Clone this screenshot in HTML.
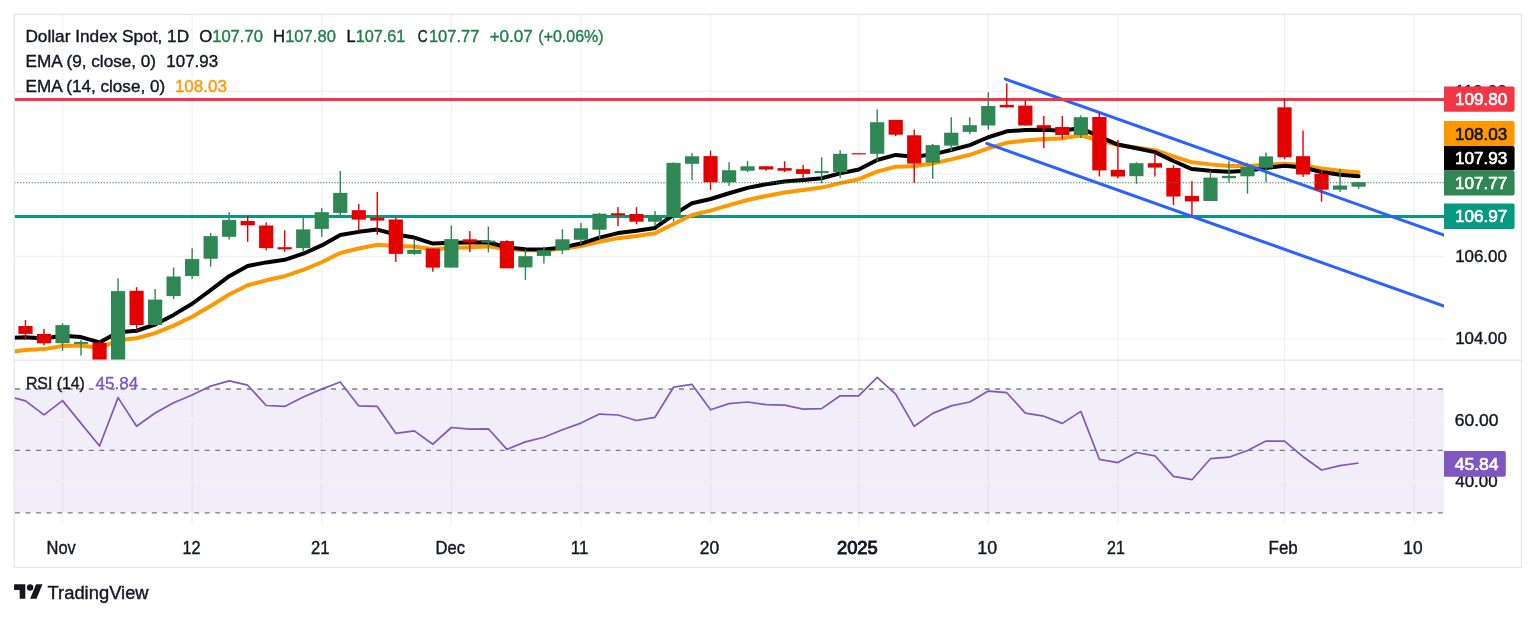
<!DOCTYPE html><html><head><meta charset="utf-8"><title>DXY</title><style>html,body{margin:0;padding:0;background:#fff;width:1536px;height:618px;overflow:hidden}text{white-space:pre}</style></head><body><svg width="1536" height="618" viewBox="0 0 1536 618" style="display:block;will-change:transform">
<defs><clipPath id="cm"><rect x="14" y="14" width="1430" height="346"/></clipPath><clipPath id="cr"><rect x="14" y="360" width="1430" height="165"/></clipPath></defs>
<line x1="62.53" y1="14" x2="62.53" y2="525" stroke="#F2F2F4" stroke-width="1.3"/>
<line x1="192.14" y1="14" x2="192.14" y2="525" stroke="#F2F2F4" stroke-width="1.3"/>
<line x1="321.74" y1="14" x2="321.74" y2="525" stroke="#F2F2F4" stroke-width="1.3"/>
<line x1="451.35" y1="14" x2="451.35" y2="525" stroke="#F2F2F4" stroke-width="1.3"/>
<line x1="580.95" y1="14" x2="580.95" y2="525" stroke="#F2F2F4" stroke-width="1.3"/>
<line x1="710.55" y1="14" x2="710.55" y2="525" stroke="#F2F2F4" stroke-width="1.3"/>
<line x1="858.67" y1="14" x2="858.67" y2="525" stroke="#F2F2F4" stroke-width="1.3"/>
<line x1="988.28" y1="14" x2="988.28" y2="525" stroke="#F2F2F4" stroke-width="1.3"/>
<line x1="1117.88" y1="14" x2="1117.88" y2="525" stroke="#F2F2F4" stroke-width="1.3"/>
<line x1="1284.52" y1="14" x2="1284.52" y2="525" stroke="#F2F2F4" stroke-width="1.3"/>
<line x1="1414.12" y1="14" x2="1414.12" y2="525" stroke="#F2F2F4" stroke-width="1.3"/>
<line x1="14" y1="91.3" x2="1444" y2="91.3" stroke="#F2F2F4" stroke-width="1.3"/>
<line x1="14" y1="173.9" x2="1444" y2="173.9" stroke="#F2F2F4" stroke-width="1.3"/>
<line x1="14" y1="256.5" x2="1444" y2="256.5" stroke="#F2F2F4" stroke-width="1.3"/>
<line x1="14" y1="338.8" x2="1444" y2="338.8" stroke="#F2F2F4" stroke-width="1.3"/>
<rect x="14" y="389" width="1430" height="123.8" fill="rgba(126,87,194,0.1)"/>
<line x1="14" y1="419.5" x2="1444" y2="419.5" stroke="#F2F2F4" stroke-width="1.3"/>
<line x1="14" y1="481.1" x2="1444" y2="481.1" stroke="#F2F2F4" stroke-width="1.3"/>
<line x1="15" y1="389.0" x2="1444" y2="389.0" stroke="#787B86" stroke-width="1.3" stroke-dasharray="4.9 5.64"/>
<line x1="15" y1="450.4" x2="1444" y2="450.4" stroke="#787B86" stroke-width="1.3" stroke-dasharray="4.9 5.64"/>
<line x1="15" y1="512.8" x2="1444" y2="512.8" stroke="#787B86" stroke-width="1.3" stroke-dasharray="4.9 5.64"/>
<g clip-path="url(#cr)"><polyline points="6.98,396.00 25.50,400.90 44.02,414.90 62.53,400.60 81.05,423.40 99.56,446.00 118.08,397.60 136.59,426.30 155.11,413.00 173.62,402.80 192.14,395.00 210.65,386.10 229.16,380.90 247.68,385.20 266.20,405.50 284.71,406.40 303.23,397.00 321.74,389.10 340.25,382.00 358.77,405.90 377.28,406.40 395.80,433.30 414.32,430.90 432.83,444.20 451.35,427.50 469.86,429.10 488.38,428.80 506.89,449.40 525.40,441.90 543.92,437.20 562.44,429.80 580.95,423.10 599.47,414.10 617.98,415.00 636.50,420.50 655.01,417.30 673.52,387.20 692.04,384.40 710.55,409.80 729.07,403.60 747.59,402.00 766.10,404.70 784.62,405.20 803.13,409.10 821.64,408.60 840.16,395.80 858.67,395.80 877.19,377.30 895.71,394.20 914.22,426.30 932.74,413.40 951.25,405.90 969.76,402.00 988.28,391.10 1006.79,392.70 1025.31,413.10 1043.83,416.20 1062.34,423.40 1080.86,411.40 1099.37,459.30 1117.88,462.60 1136.40,452.50 1154.91,455.80 1173.43,476.40 1191.94,479.70 1210.46,458.70 1228.97,457.20 1247.49,450.50 1266.01,441.10 1284.52,441.10 1303.04,456.70 1321.55,470.00 1340.07,465.60 1358.58,463.00" fill="none" stroke="#7E57C2" stroke-width="1.7" stroke-linejoin="round"/></g>
<g clip-path="url(#cm)">
<line x1="14" y1="216.4" x2="1444" y2="216.4" stroke="#089981" stroke-width="3"/>
<polyline points="6.98,352.50 25.50,350.02 44.02,349.12 62.53,345.92 81.05,345.44 99.56,347.91 118.08,340.34 136.59,338.29 155.11,333.13 173.62,325.58 192.14,316.72 210.65,305.97 229.16,294.49 247.68,285.27 266.20,280.31 284.71,276.19 303.23,269.95 321.74,262.25 340.25,253.00 358.77,248.55 377.28,244.82 395.80,246.03 414.32,246.54 432.83,249.34 451.35,247.98 469.86,247.22 488.38,246.38 506.89,249.30 525.40,250.22 543.92,250.22 562.44,248.76 580.95,246.03 599.47,241.72 617.98,238.16 636.50,235.97 655.01,233.34 673.52,223.95 692.04,214.93 710.55,210.58 729.07,205.20 747.59,200.01 766.10,195.94 784.62,192.58 803.13,190.09 821.64,187.59 840.16,183.09 858.67,179.18 877.19,171.59 895.71,166.67 914.22,166.26 932.74,163.44 951.25,159.34 969.76,154.79 988.28,148.28 1006.79,142.83 1025.31,140.52 1043.83,138.90 1062.34,138.38 1080.86,135.56 1099.37,140.20 1117.88,145.04 1136.40,147.46 1154.91,150.15 1173.43,156.33 1191.94,162.34 1210.46,164.37 1228.97,165.91 1247.49,166.06 1266.01,164.77 1284.52,163.77 1303.04,165.20 1321.55,168.47 1340.07,170.74 1358.58,172.27" fill="none" stroke="#FF9800" stroke-width="4" stroke-linejoin="round" stroke-linecap="round"/>
<polyline points="6.98,338.00 25.50,337.18 44.02,338.40 62.53,335.74 81.05,337.05 99.56,342.44 118.08,332.17 136.59,330.74 155.11,324.51 173.62,314.91 192.14,303.75 210.65,290.22 229.16,276.15 247.68,265.98 266.20,262.41 284.71,259.81 303.23,253.72 321.74,245.42 340.25,234.92 358.77,231.85 377.28,229.60 395.80,234.46 414.32,237.53 432.83,243.54 451.35,242.65 469.86,242.58 488.38,242.25 506.89,247.46 525.40,249.21 543.92,249.40 562.44,247.38 580.95,243.57 599.47,237.59 617.98,233.07 636.50,230.80 655.01,227.90 673.52,214.90 692.04,203.18 710.55,199.00 729.07,193.24 747.59,187.85 766.10,184.18 784.62,181.49 803.13,179.97 821.64,178.26 840.16,173.36 858.67,169.45 877.19,160.00 895.71,154.94 914.22,156.67 932.74,154.36 951.25,150.03 969.76,145.06 988.28,137.25 1006.79,131.28 1025.31,130.12 1043.83,129.78 1062.34,130.82 1080.86,128.10 1099.37,136.56 1117.88,144.55 1136.40,148.28 1154.91,152.14 1173.43,161.01 1191.94,169.09 1210.46,170.79 1228.97,171.81 1247.49,170.85 1266.01,167.96 1284.52,165.83 1303.04,167.56 1321.55,171.99 1340.07,174.69 1358.58,176.19" fill="none" stroke="#000000" stroke-width="4" stroke-linejoin="round" stroke-linecap="round"/>
<line x1="1005.3" y1="79.1" x2="1444" y2="235.1" stroke="#2962FF" stroke-width="3" stroke-linecap="round"/>
<line x1="986.7" y1="143.4" x2="1444" y2="306.1" stroke="#2962FF" stroke-width="3" stroke-linecap="round"/>
<line x1="14" y1="99.4" x2="1444" y2="99.4" stroke="#F23645" stroke-width="3"/>
<rect x="24.80" y="320.10" width="1.4" height="19.70" fill="#E50000"/>
<rect x="18.40" y="326.00" width="14.2" height="7.90" fill="#E50000"/>
<rect x="43.31" y="328.90" width="1.4" height="16.50" fill="#E50000"/>
<rect x="36.91" y="334.00" width="14.2" height="9.30" fill="#E50000"/>
<rect x="61.83" y="323.30" width="1.4" height="27.60" fill="#2E8754"/>
<rect x="55.43" y="325.10" width="14.2" height="18.10" fill="#2E8754"/>
<rect x="80.34" y="339.60" width="1.4" height="16.00" fill="#2E8754"/>
<rect x="73.95" y="341.90" width="14.2" height="2.00" fill="#2E8754"/>
<rect x="98.86" y="340.30" width="1.4" height="25.70" fill="#E50000"/>
<rect x="92.46" y="342.80" width="14.2" height="21.20" fill="#E50000"/>
<rect x="117.38" y="278.30" width="1.4" height="86.70" fill="#2E8754"/>
<rect x="110.98" y="291.10" width="14.2" height="72.90" fill="#2E8754"/>
<rect x="135.89" y="287.20" width="1.4" height="43.60" fill="#E50000"/>
<rect x="129.49" y="290.80" width="14.2" height="34.20" fill="#E50000"/>
<rect x="154.41" y="289.00" width="1.4" height="36.00" fill="#2E8754"/>
<rect x="148.01" y="299.60" width="14.2" height="25.40" fill="#2E8754"/>
<rect x="172.92" y="267.60" width="1.4" height="31.50" fill="#2E8754"/>
<rect x="166.52" y="276.50" width="14.2" height="19.60" fill="#2E8754"/>
<rect x="191.44" y="248.40" width="1.4" height="30.50" fill="#2E8754"/>
<rect x="185.04" y="259.10" width="14.2" height="16.90" fill="#2E8754"/>
<rect x="209.95" y="232.90" width="1.4" height="33.90" fill="#2E8754"/>
<rect x="203.55" y="236.10" width="14.2" height="22.60" fill="#2E8754"/>
<rect x="228.47" y="212.10" width="1.4" height="27.60" fill="#2E8754"/>
<rect x="222.06" y="219.90" width="14.2" height="16.90" fill="#2E8754"/>
<rect x="246.98" y="216.00" width="1.4" height="25.80" fill="#E50000"/>
<rect x="240.58" y="221.00" width="14.2" height="4.30" fill="#E50000"/>
<rect x="265.50" y="222.30" width="1.4" height="28.10" fill="#E50000"/>
<rect x="259.10" y="225.50" width="14.2" height="22.60" fill="#E50000"/>
<rect x="284.01" y="230.30" width="1.4" height="21.40" fill="#E50000"/>
<rect x="277.61" y="247.20" width="14.2" height="2.20" fill="#E50000"/>
<rect x="302.53" y="217.30" width="1.4" height="34.40" fill="#2E8754"/>
<rect x="296.12" y="229.40" width="14.2" height="18.70" fill="#2E8754"/>
<rect x="321.04" y="208.10" width="1.4" height="28.80" fill="#2E8754"/>
<rect x="314.64" y="212.20" width="14.2" height="16.70" fill="#2E8754"/>
<rect x="339.56" y="171.00" width="1.4" height="46.00" fill="#2E8754"/>
<rect x="333.15" y="192.90" width="14.2" height="20.00" fill="#2E8754"/>
<rect x="358.07" y="204.10" width="1.4" height="26.70" fill="#E50000"/>
<rect x="351.67" y="210.20" width="14.2" height="9.40" fill="#E50000"/>
<rect x="376.58" y="191.90" width="1.4" height="42.90" fill="#E50000"/>
<rect x="370.18" y="217.70" width="14.2" height="2.90" fill="#E50000"/>
<rect x="395.10" y="217.70" width="1.4" height="44.20" fill="#E50000"/>
<rect x="388.70" y="219.50" width="14.2" height="34.40" fill="#E50000"/>
<rect x="413.62" y="238.70" width="1.4" height="16.10" fill="#2E8754"/>
<rect x="407.22" y="249.80" width="14.2" height="4.10" fill="#2E8754"/>
<rect x="432.13" y="248.50" width="1.4" height="23.20" fill="#E50000"/>
<rect x="425.73" y="248.50" width="14.2" height="19.10" fill="#E50000"/>
<rect x="450.65" y="225.40" width="1.4" height="42.20" fill="#2E8754"/>
<rect x="444.25" y="239.10" width="14.2" height="28.50" fill="#2E8754"/>
<rect x="469.16" y="231.10" width="1.4" height="21.00" fill="#E50000"/>
<rect x="462.76" y="239.30" width="14.2" height="3.00" fill="#E50000"/>
<rect x="487.68" y="226.50" width="1.4" height="25.80" fill="#2E8754"/>
<rect x="481.27" y="240.60" width="14.2" height="2.00" fill="#2E8754"/>
<rect x="506.19" y="240.20" width="1.4" height="28.10" fill="#E50000"/>
<rect x="499.79" y="241.10" width="14.2" height="27.20" fill="#E50000"/>
<rect x="524.70" y="249.60" width="1.4" height="30.30" fill="#2E8754"/>
<rect x="518.30" y="256.20" width="14.2" height="11.20" fill="#2E8754"/>
<rect x="543.22" y="246.60" width="1.4" height="16.90" fill="#2E8754"/>
<rect x="536.82" y="250.20" width="14.2" height="5.70" fill="#2E8754"/>
<rect x="561.74" y="229.20" width="1.4" height="24.90" fill="#2E8754"/>
<rect x="555.34" y="239.30" width="14.2" height="10.90" fill="#2E8754"/>
<rect x="580.25" y="222.90" width="1.4" height="21.40" fill="#2E8754"/>
<rect x="573.85" y="228.30" width="14.2" height="11.50" fill="#2E8754"/>
<rect x="598.76" y="212.80" width="1.4" height="25.80" fill="#2E8754"/>
<rect x="592.37" y="213.70" width="14.2" height="16.00" fill="#2E8754"/>
<rect x="617.28" y="207.10" width="1.4" height="19.00" fill="#E50000"/>
<rect x="610.88" y="213.25" width="14.2" height="2.00" fill="#E50000"/>
<rect x="635.79" y="207.10" width="1.4" height="17.20" fill="#E50000"/>
<rect x="629.39" y="214.00" width="14.2" height="7.70" fill="#E50000"/>
<rect x="654.31" y="211.00" width="1.4" height="15.10" fill="#2E8754"/>
<rect x="647.91" y="216.30" width="14.2" height="5.40" fill="#2E8754"/>
<rect x="672.82" y="162.40" width="1.4" height="59.30" fill="#2E8754"/>
<rect x="666.42" y="162.90" width="14.2" height="54.30" fill="#2E8754"/>
<rect x="691.34" y="153.10" width="1.4" height="27.10" fill="#2E8754"/>
<rect x="684.94" y="156.30" width="14.2" height="7.50" fill="#2E8754"/>
<rect x="709.85" y="150.60" width="1.4" height="39.20" fill="#E50000"/>
<rect x="703.45" y="156.10" width="14.2" height="26.20" fill="#E50000"/>
<rect x="728.37" y="162.20" width="1.4" height="23.70" fill="#2E8754"/>
<rect x="721.97" y="170.20" width="14.2" height="12.10" fill="#2E8754"/>
<rect x="746.88" y="160.90" width="1.4" height="11.10" fill="#2E8754"/>
<rect x="740.49" y="166.30" width="14.2" height="4.40" fill="#2E8754"/>
<rect x="765.40" y="166.30" width="1.4" height="4.40" fill="#E50000"/>
<rect x="759.00" y="166.30" width="14.2" height="3.20" fill="#E50000"/>
<rect x="783.91" y="161.30" width="1.4" height="10.70" fill="#E50000"/>
<rect x="777.51" y="168.10" width="14.2" height="2.60" fill="#E50000"/>
<rect x="802.43" y="164.90" width="1.4" height="13.00" fill="#E50000"/>
<rect x="796.03" y="169.20" width="14.2" height="4.70" fill="#E50000"/>
<rect x="820.94" y="157.30" width="1.4" height="26.00" fill="#2E8754"/>
<rect x="814.54" y="171.10" width="14.2" height="2.00" fill="#2E8754"/>
<rect x="839.46" y="150.20" width="1.4" height="27.80" fill="#2E8754"/>
<rect x="833.06" y="153.80" width="14.2" height="18.30" fill="#2E8754"/>
<rect x="857.97" y="153.80" width="1.4" height="0.50" fill="#E50000"/>
<rect x="851.57" y="153.20" width="14.2" height="1.20" fill="#E50000"/>
<rect x="876.49" y="109.30" width="1.4" height="52.10" fill="#2E8754"/>
<rect x="870.09" y="122.20" width="14.2" height="31.60" fill="#2E8754"/>
<rect x="895.00" y="119.90" width="1.4" height="16.20" fill="#E50000"/>
<rect x="888.61" y="119.90" width="14.2" height="14.80" fill="#E50000"/>
<rect x="913.52" y="129.60" width="1.4" height="53.20" fill="#E50000"/>
<rect x="907.12" y="135.30" width="14.2" height="28.30" fill="#E50000"/>
<rect x="932.03" y="143.90" width="1.4" height="35.00" fill="#2E8754"/>
<rect x="925.63" y="145.10" width="14.2" height="17.50" fill="#2E8754"/>
<rect x="950.55" y="117.20" width="1.4" height="33.80" fill="#2E8754"/>
<rect x="944.15" y="132.70" width="14.2" height="12.90" fill="#2E8754"/>
<rect x="969.06" y="117.20" width="1.4" height="16.90" fill="#2E8754"/>
<rect x="962.66" y="125.20" width="14.2" height="6.70" fill="#2E8754"/>
<rect x="987.58" y="92.20" width="1.4" height="37.40" fill="#2E8754"/>
<rect x="981.18" y="106.00" width="14.2" height="19.50" fill="#2E8754"/>
<rect x="1006.09" y="83.30" width="1.4" height="24.10" fill="#E50000"/>
<rect x="999.69" y="104.90" width="14.2" height="2.50" fill="#E50000"/>
<rect x="1024.61" y="100.30" width="1.4" height="25.20" fill="#E50000"/>
<rect x="1018.21" y="105.60" width="14.2" height="19.90" fill="#E50000"/>
<rect x="1043.12" y="115.90" width="1.4" height="32.40" fill="#E50000"/>
<rect x="1036.73" y="125.20" width="14.2" height="3.20" fill="#E50000"/>
<rect x="1061.64" y="115.90" width="1.4" height="23.20" fill="#E50000"/>
<rect x="1055.24" y="127.00" width="14.2" height="8.00" fill="#E50000"/>
<rect x="1080.15" y="115.40" width="1.4" height="22.60" fill="#2E8754"/>
<rect x="1073.76" y="117.20" width="14.2" height="17.80" fill="#2E8754"/>
<rect x="1098.67" y="112.50" width="1.4" height="64.00" fill="#E50000"/>
<rect x="1092.27" y="117.00" width="14.2" height="53.40" fill="#E50000"/>
<rect x="1117.18" y="140.00" width="1.4" height="38.30" fill="#E50000"/>
<rect x="1110.79" y="169.80" width="14.2" height="6.70" fill="#E50000"/>
<rect x="1135.70" y="162.30" width="1.4" height="21.40" fill="#2E8754"/>
<rect x="1129.30" y="163.20" width="14.2" height="13.00" fill="#2E8754"/>
<rect x="1154.21" y="152.50" width="1.4" height="24.00" fill="#E50000"/>
<rect x="1147.82" y="163.20" width="14.2" height="4.40" fill="#E50000"/>
<rect x="1172.73" y="165.10" width="1.4" height="39.90" fill="#E50000"/>
<rect x="1166.33" y="168.00" width="14.2" height="28.50" fill="#E50000"/>
<rect x="1191.24" y="181.10" width="1.4" height="34.20" fill="#E50000"/>
<rect x="1184.85" y="195.90" width="14.2" height="5.50" fill="#E50000"/>
<rect x="1209.76" y="171.10" width="1.4" height="29.90" fill="#2E8754"/>
<rect x="1203.36" y="177.60" width="14.2" height="23.40" fill="#2E8754"/>
<rect x="1228.27" y="160.80" width="1.4" height="22.10" fill="#2E8754"/>
<rect x="1221.88" y="175.90" width="14.2" height="2.30" fill="#2E8754"/>
<rect x="1246.79" y="163.00" width="1.4" height="30.60" fill="#2E8754"/>
<rect x="1240.39" y="167.00" width="14.2" height="9.30" fill="#2E8754"/>
<rect x="1265.31" y="152.70" width="1.4" height="29.50" fill="#2E8754"/>
<rect x="1258.91" y="156.40" width="14.2" height="11.40" fill="#2E8754"/>
<rect x="1283.82" y="98.50" width="1.4" height="60.90" fill="#E50000"/>
<rect x="1277.42" y="107.30" width="14.2" height="50.00" fill="#E50000"/>
<rect x="1302.34" y="130.60" width="1.4" height="46.30" fill="#E50000"/>
<rect x="1295.94" y="156.20" width="14.2" height="18.30" fill="#E50000"/>
<rect x="1320.85" y="169.90" width="1.4" height="31.80" fill="#E50000"/>
<rect x="1314.45" y="173.70" width="14.2" height="16.00" fill="#E50000"/>
<rect x="1339.37" y="168.80" width="1.4" height="23.10" fill="#2E8754"/>
<rect x="1332.97" y="185.50" width="14.2" height="4.20" fill="#2E8754"/>
<rect x="1357.88" y="181.70" width="1.4" height="7.10" fill="#2E8754"/>
<rect x="1351.48" y="182.20" width="14.2" height="4.50" fill="#2E8754"/>
<line x1="14.3" y1="182.7" x2="1444" y2="182.7" stroke="#2E8754" stroke-width="1.15" stroke-dasharray="1.3 1.585"/>
</g>
<line x1="14" y1="360.2" x2="1521.5" y2="360.2" stroke="#E4E6ED" stroke-width="1.3"/>
<rect x="14.2" y="14.4" width="1507.3" height="553" fill="none" stroke="#E4E6ED" stroke-width="1.3"/>
<text x="1455.10" y="97.3" font-family="'Liberation Sans', sans-serif" font-size="17" fill="#131722" textLength="51.80" lengthAdjust="spacingAndGlyphs" stroke="#131722" stroke-width="0.4">110.00</text>
<text x="1455.13" y="261.7" font-family="'Liberation Sans', sans-serif" font-size="17" fill="#131722" textLength="51.74" lengthAdjust="spacingAndGlyphs" stroke="#131722" stroke-width="0.4">106.00</text>
<text x="1455.13" y="344.2" font-family="'Liberation Sans', sans-serif" font-size="17" fill="#131722" textLength="51.74" lengthAdjust="spacingAndGlyphs" stroke="#131722" stroke-width="0.4">104.00</text>
<text x="1454.73" y="425.8" font-family="'Liberation Sans', sans-serif" font-size="17" fill="#131722" textLength="43.73" lengthAdjust="spacingAndGlyphs" stroke="#131722" stroke-width="0.4">60.00</text>
<text x="1455.26" y="486.9" font-family="'Liberation Sans', sans-serif" font-size="17" fill="#131722" textLength="42.37" lengthAdjust="spacingAndGlyphs" stroke="#131722" stroke-width="0.4">40.00</text>
<path d="M1444,86.5 H1512.6 Q1514.6,86.5 1514.6,88.5 V109.7 Q1514.6,111.7 1512.6,111.7 H1444 Z" fill="#F23645"/>
<text x="1454.92" y="105.1" font-family="'Liberation Sans', sans-serif" font-size="17" fill="#FFFFFF" textLength="52.26" lengthAdjust="spacingAndGlyphs" stroke="#FFFFFF" stroke-width="0.65">109.80</text>
<path d="M1444,121.1 H1512.6 Q1514.6,121.1 1514.6,123.1 V144.0 Q1514.6,146.0 1512.6,146.0 H1444 Z" fill="#FF9800"/>
<text x="1454.92" y="139.6" font-family="'Liberation Sans', sans-serif" font-size="17" fill="#131722" textLength="52.35" lengthAdjust="spacingAndGlyphs" stroke="#131722" stroke-width="0.65">108.03</text>
<path d="M1444,146.0 H1512.6 Q1514.6,146.0 1514.6,148.0 V168.4 Q1514.6,170.4 1512.6,170.4 H1444 Z" fill="#000000"/>
<text x="1454.92" y="164.2" font-family="'Liberation Sans', sans-serif" font-size="17" fill="#FFFFFF" textLength="52.35" lengthAdjust="spacingAndGlyphs" stroke="#FFFFFF" stroke-width="0.65">107.93</text>
<path d="M1444,170.4 H1512.6 Q1514.6,170.4 1514.6,172.4 V193.4 Q1514.6,195.4 1512.6,195.4 H1444 Z" fill="#2E8754"/>
<text x="1454.91" y="188.9" font-family="'Liberation Sans', sans-serif" font-size="17" fill="#FFFFFF" textLength="52.52" lengthAdjust="spacingAndGlyphs" stroke="#FFFFFF" stroke-width="0.65">107.77</text>
<path d="M1444,203.4 H1512.6 Q1514.6,203.4 1514.6,205.4 V226.9 Q1514.6,228.9 1512.6,228.9 H1444 Z" fill="#089981"/>
<text x="1454.91" y="222.2" font-family="'Liberation Sans', sans-serif" font-size="17" fill="#FFFFFF" textLength="52.52" lengthAdjust="spacingAndGlyphs" stroke="#FFFFFF" stroke-width="0.65">106.97</text>
<path d="M1444,451.1 H1503.8 Q1505.8,451.1 1505.8,453.1 V474.7 Q1505.8,476.7 1503.8,476.7 H1444 Z" fill="#7E57C2"/>
<text x="1454.75" y="469.8" font-family="'Liberation Sans', sans-serif" font-size="17" fill="#FFFFFF" textLength="43.82" lengthAdjust="spacingAndGlyphs" stroke="#FFFFFF" stroke-width="0.65">45.84</text>
<text x="25.42" y="41.8" font-family="'Liberation Sans', sans-serif" font-size="17" fill="#131722" textLength="163.75" lengthAdjust="spacingAndGlyphs" stroke="#131722" stroke-width="0.4">Dollar Index Spot, 1D</text>
<text x="199.14" y="41.8" font-family="'Liberation Sans', sans-serif" font-size="17" fill="#131722" textLength="13.06" lengthAdjust="spacingAndGlyphs" stroke="#131722" stroke-width="0.4">O</text>
<text x="212.15" y="41.8" font-family="'Liberation Sans', sans-serif" font-size="17" fill="#22804A" textLength="50.81" lengthAdjust="spacingAndGlyphs" stroke="#22804A" stroke-width="0.4">107.70</text>
<text x="273.06" y="41.8" font-family="'Liberation Sans', sans-serif" font-size="17" fill="#131722" textLength="12.06" lengthAdjust="spacingAndGlyphs" stroke="#131722" stroke-width="0.4">H</text>
<text x="285.16" y="41.8" font-family="'Liberation Sans', sans-serif" font-size="17" fill="#22804A" textLength="50.70" lengthAdjust="spacingAndGlyphs" stroke="#22804A" stroke-width="0.4">107.80</text>
<text x="346.39" y="41.8" font-family="'Liberation Sans', sans-serif" font-size="17" fill="#131722" textLength="9.12" lengthAdjust="spacingAndGlyphs" stroke="#131722" stroke-width="0.4">L</text>
<text x="355.68" y="41.8" font-family="'Liberation Sans', sans-serif" font-size="17" fill="#22804A" textLength="49.73" lengthAdjust="spacingAndGlyphs" stroke="#22804A" stroke-width="0.4">107.61</text>
<text x="417.71" y="41.8" font-family="'Liberation Sans', sans-serif" font-size="17" fill="#131722" textLength="9.89" lengthAdjust="spacingAndGlyphs" stroke="#131722" stroke-width="0.4">C</text>
<text x="428.96" y="41.8" font-family="'Liberation Sans', sans-serif" font-size="17" fill="#22804A" textLength="50.44" lengthAdjust="spacingAndGlyphs" stroke="#22804A" stroke-width="0.4">107.77</text>
<text x="489.65" y="41.8" font-family="'Liberation Sans', sans-serif" font-size="17" fill="#22804A" textLength="43.21" lengthAdjust="spacingAndGlyphs" stroke="#22804A" stroke-width="0.4">+0.07</text>
<text x="538.34" y="41.8" font-family="'Liberation Sans', sans-serif" font-size="17" fill="#22804A" textLength="65.22" lengthAdjust="spacingAndGlyphs" stroke="#22804A" stroke-width="0.4">(+0.06%)</text>
<text x="25.53" y="66.9" font-family="'Liberation Sans', sans-serif" font-size="17" fill="#131722" textLength="130.57" lengthAdjust="spacingAndGlyphs" stroke="#131722" stroke-width="0.4">EMA (9, close, 0)</text>
<text x="166.33" y="66.9" font-family="'Liberation Sans', sans-serif" font-size="17" fill="#131722" textLength="51.72" lengthAdjust="spacingAndGlyphs" stroke="#131722" stroke-width="0.4">107.93</text>
<text x="25.53" y="91.5" font-family="'Liberation Sans', sans-serif" font-size="17" fill="#131722" textLength="139.58" lengthAdjust="spacingAndGlyphs" stroke="#131722" stroke-width="0.4">EMA (14, close, 0)</text>
<text x="174.92" y="91.5" font-family="'Liberation Sans', sans-serif" font-size="17" fill="#FF9800" textLength="52.03" lengthAdjust="spacingAndGlyphs" stroke="#FF9800" stroke-width="0.4">108.03</text>
<text x="25.93" y="388.8" font-family="'Liberation Sans', sans-serif" font-size="17" fill="#131722" textLength="58.97" lengthAdjust="spacingAndGlyphs" stroke="#131722" stroke-width="0.4">RSI (14)</text>
<text x="95.41" y="388.8" font-family="'Liberation Sans', sans-serif" font-size="17" fill="#7E57C2" textLength="42.75" lengthAdjust="spacingAndGlyphs" stroke="#7E57C2" stroke-width="0.4">45.84</text>
<text x="46.58" y="554.0" font-family="'Liberation Sans', sans-serif" font-size="17.5" fill="#131722" textLength="29.27" lengthAdjust="spacingAndGlyphs" stroke="#131722" stroke-width="0.4">Nov</text>
<text x="182.38" y="554.0" font-family="'Liberation Sans', sans-serif" font-size="17.5" fill="#131722" textLength="18.07" lengthAdjust="spacingAndGlyphs" stroke="#131722" stroke-width="0.4">12</text>
<text x="311.07" y="554.0" font-family="'Liberation Sans', sans-serif" font-size="17.5" fill="#131722" textLength="18.52" lengthAdjust="spacingAndGlyphs" stroke="#131722" stroke-width="0.4">21</text>
<text x="435.58" y="554.0" font-family="'Liberation Sans', sans-serif" font-size="17.5" fill="#131722" textLength="29.41" lengthAdjust="spacingAndGlyphs" stroke="#131722" stroke-width="0.4">Dec</text>
<text x="570.72" y="554.0" font-family="'Liberation Sans', sans-serif" font-size="17.5" fill="#131722" textLength="17.70" lengthAdjust="spacingAndGlyphs" stroke="#131722" stroke-width="0.4">11</text>
<text x="699.73" y="554.0" font-family="'Liberation Sans', sans-serif" font-size="17.5" fill="#131722" textLength="19.43" lengthAdjust="spacingAndGlyphs" stroke="#131722" stroke-width="0.4">20</text>
<text x="836.98" y="554.0" font-family="'Liberation Sans', sans-serif" font-size="17.5" fill="#131722" textLength="40.74" lengthAdjust="spacingAndGlyphs" stroke="#131722" stroke-width="0.95">2025</text>
<text x="977.26" y="554.0" font-family="'Liberation Sans', sans-serif" font-size="17.5" fill="#131722" textLength="19.91" lengthAdjust="spacingAndGlyphs" stroke="#131722" stroke-width="0.4">10</text>
<text x="1107.00" y="554.0" font-family="'Liberation Sans', sans-serif" font-size="17.5" fill="#131722" textLength="17.86" lengthAdjust="spacingAndGlyphs" stroke="#131722" stroke-width="0.4">21</text>
<text x="1268.55" y="554.0" font-family="'Liberation Sans', sans-serif" font-size="17.5" fill="#131722" textLength="29.19" lengthAdjust="spacingAndGlyphs" stroke="#131722" stroke-width="0.4">Feb</text>
<text x="1403.30" y="554.0" font-family="'Liberation Sans', sans-serif" font-size="17.5" fill="#131722" textLength="19.24" lengthAdjust="spacingAndGlyphs" stroke="#131722" stroke-width="0.4">10</text>
<g transform="translate(14.1,581.1) scale(0.8)" fill="#131722"><path d="M14 22H7V11H0V4h14v18zM28 22h-8l7.5-18h8L28 22z"/><circle cx="20" cy="8" r="4"/></g>
<text x="47.53" y="599.3" font-family="'Liberation Sans', sans-serif" font-size="18" fill="#131722" textLength="101.13" lengthAdjust="spacingAndGlyphs" stroke="#131722" stroke-width="0.4">TradingView</text>
</svg></body></html>
